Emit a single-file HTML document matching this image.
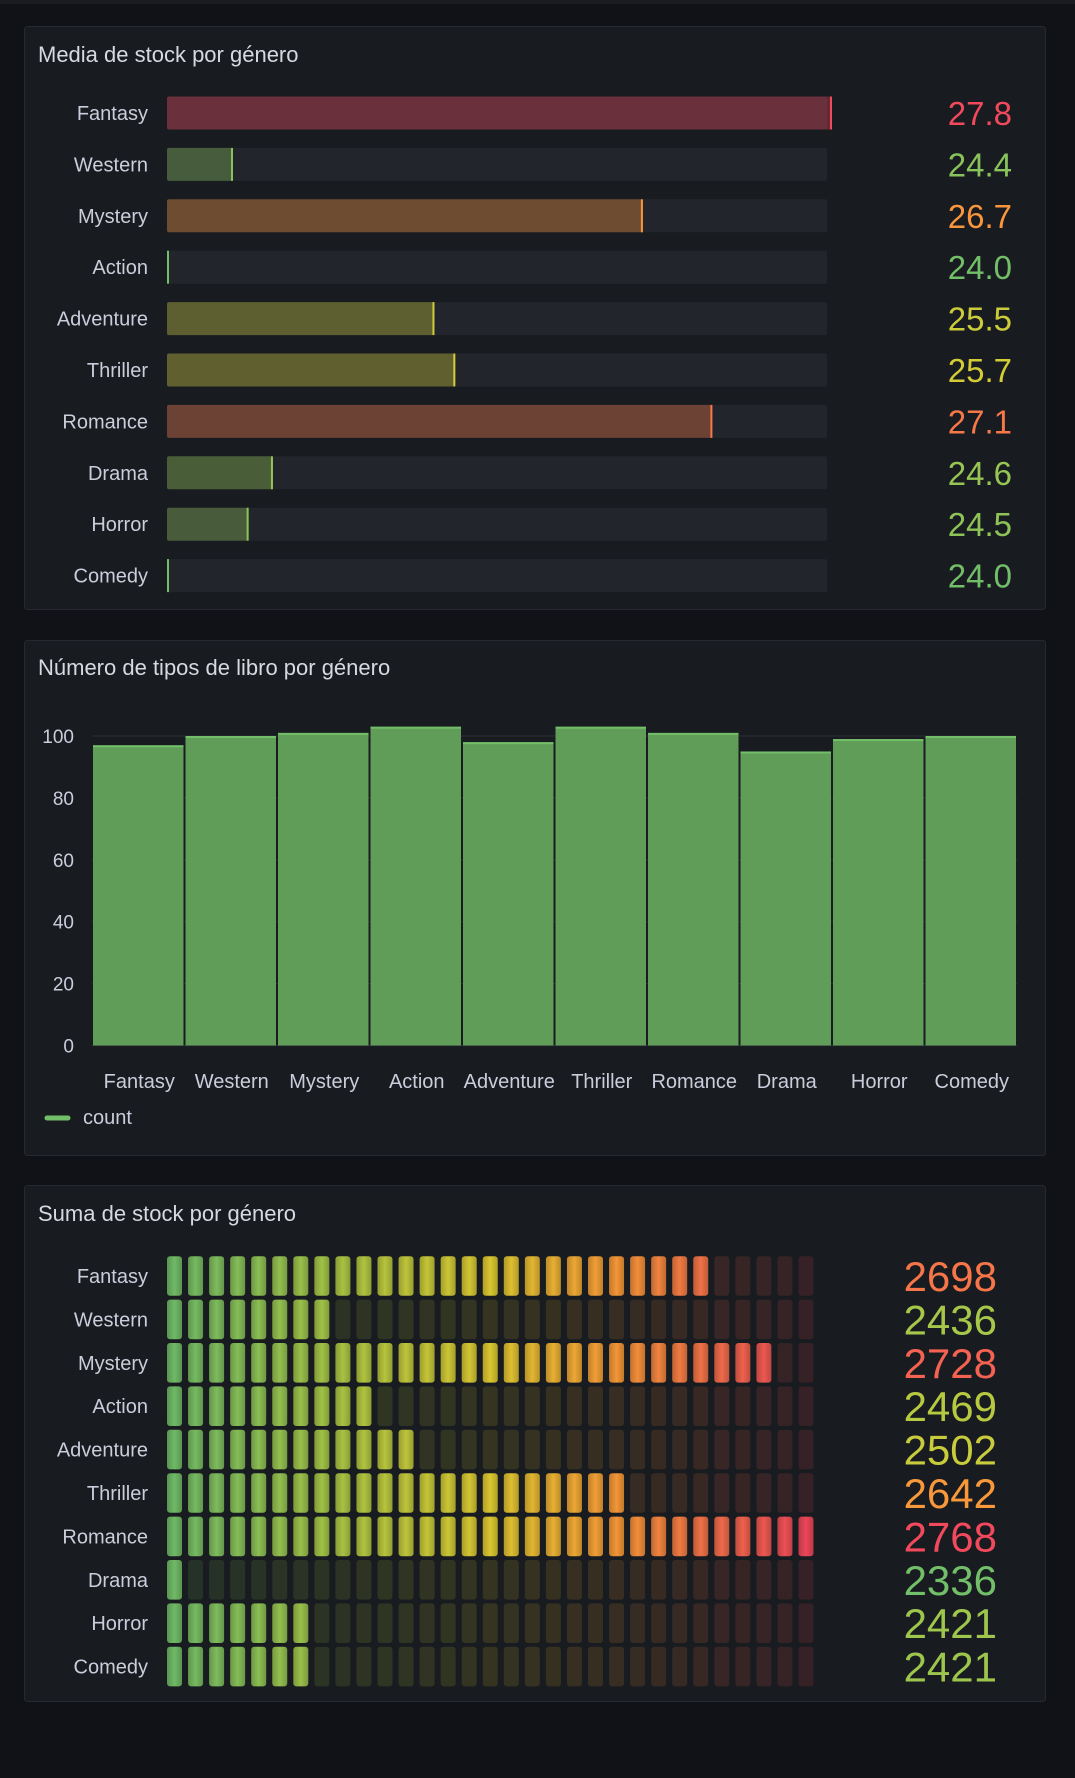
<!DOCTYPE html>
<html><head><meta charset="utf-8">
<style>
html,body{margin:0;padding:0;background:#111217;width:1075px;height:1778px;overflow:hidden;font-family:"Liberation Sans",sans-serif;}
svg{display:block}
</style></head>
<body>
<svg id="root" width="1075" height="1778" xmlns="http://www.w3.org/2000/svg">
  <rect x="0" y="0" width="1075" height="1778" fill="#111217"/>
  <rect x="0" y="0" width="1075" height="4" fill="#1a1c21"/>
  <g>
    <rect x="24.5" y="26.5" width="1021" height="583" rx="3" fill="#181b1f" stroke="#26292f"/>
    <text x="38" y="62" font-size="22" fill="#d8d9e0">Media de stock por género</text>
    <g id="p1"></g>
  </g>
  <g>
    <rect x="24.5" y="640.5" width="1021" height="515" rx="3" fill="#181b1f" stroke="#26292f"/>
    <text x="38" y="675" font-size="22" fill="#d8d9e0">Número de tipos de libro por género</text>
    <g id="p2"></g>
  </g>
  <g>
    <rect x="24.5" y="1185.5" width="1021" height="516" rx="3" fill="#181b1f" stroke="#26292f"/>
    <text x="38" y="1221" font-size="22" fill="#d8d9e0">Suma de stock por género</text>
    <g id="p3"></g>
  </g>
</svg>
<script>
const genres = ["Fantasy","Western","Mystery","Action","Adventure","Thriller","Romance","Drama","Horror","Comedy"];
const avgStock = [27.8,24.38,26.74,24.0,25.54,25.66,27.14,24.61,24.47,24.0];
const bookCounts = [97,100,101,103,98,103,101,95,99,100];
const yTicks = [0,20,40,60,80,100];
const sumStock = [2698,2436,2728,2469,2502,2642,2768,2336,2421,2421];

const NS="http://www.w3.org/2000/svg";
function mk(tag,attrs,parent){const e=document.createElementNS(NS,tag);for(const k in attrs)e.setAttribute(k,attrs[k]);parent.appendChild(e);return e;}
function lerp(a,b,t){return a+(b-a)*t;}
const stops=[[0,[115,191,105]],[0.25,[170,200,70]],[0.5,[225,205,50]],[0.68,[250,160,55]],[1,[242,73,92]]];
function col(t){t=Math.max(0,Math.min(1,t));for(let i=1;i<stops.length;i++){if(t<=stops[i][0]){const a=stops[i-1],b=stops[i];const u=(t-a[0])/(b[0]-a[0]);return [0,1,2].map(j=>Math.round(lerp(a[1][j],b[1][j],u)));}}return stops[stops.length-1][1];}
function rgb(c,a){return a===undefined?`rgb(${c[0]},${c[1]},${c[2]})`:`rgba(${c[0]},${c[1]},${c[2]},${a})`;}

// Panel 1
(function(){
  const g=document.getElementById('p1');
  const mn=Math.min(...avgStock), mx=Math.max(...avgStock);
  const x0=167, w=660, rowY=i=>113+i*51.4, bh=33;
  genres.forEach((name,i)=>{
    const cy=rowY(i), t=(avgStock[i]-mn)/(mx-mn), c=col(t);
    const lab=mk('text',{x:148,y:cy+7,'font-size':20,fill:'#ccccdc','text-anchor':'end'},g);lab.textContent=name;
    
    
    const tr=mk('rect',{x:x0,y:cy-bh/2,width:w,height:bh,rx:2,fill:'#22252b'},g);
    
    
    const fw=Math.max(2,t*w)+(t>=1?5:0);
    const b=mk('rect',{x:x0,y:cy-bh/2,width:fw,height:bh,rx:2,fill:rgb(c,0.35)},g);
    
    
    mk('rect',{x:x0+fw-2,y:cy-bh/2,width:2,height:bh,fill:rgb(c)},g);
    const v=mk('text',{x:1012,y:cy+12,'font-size':33,fill:rgb(c),'text-anchor':'end'},g);v.textContent=avgStock[i].toFixed(1);
    
    
  });
})();

// Panel 2
(function(){
  const g=document.getElementById('p2');
  const yZero=1045.5, yHundred=736, yS=v=>yZero-(yZero-yHundred)*v/100;
  const xL=92, xR=1017, band=(xR-xL)/genres.length;
  yTicks.forEach(v=>{
    mk('line',{x1:xL,x2:xR,y1:yS(v),y2:yS(v),stroke:'#2c2f35','stroke-width':1},g);
    const t=mk('text',{x:74,y:yS(v)+7,'font-size':19,fill:'#ccccdc','text-anchor':'end'},g);t.textContent=v;
    
    
  });
  genres.forEach((name,i)=>{
    const x=xL+i*band+1, y=yS(bookCounts[i]);
    const b=mk('rect',{x:x,y:y,width:band-2,height:yZero-y,fill:'#5f9d58'},g);
    
    
    mk('rect',{x:x,y:y,width:band-2,height:2,fill:'#73bf69'},g);
    const t=mk('text',{x:x+band/2,y:1088,'font-size':20,fill:'#ccccdc','text-anchor':'middle'},g);t.textContent=name;
    
    
  });
  const lg=mk('g',{},g);
  
  
  mk('line',{x1:47,x2:68,y1:1118,y2:1118,stroke:'#73bf69','stroke-width':5,'stroke-linecap':'round'},lg);
  const lt=mk('text',{x:83,y:1124,'font-size':20,fill:'#ccccdc'},lg);lt.textContent='count';
})();

// Panel 3
(function(){
  const g=document.getElementById('p3');
  const defs=mk('defs',{},g);
  const N=31, mn=Math.min(...sumStock), mx=Math.max(...sumStock);
  const x0=167, pitch=21.05, cw=15, ch=39.6, rowY=i=>1276+i*43.4;
  for(let k=0;k<N;k++){
    const c=col(k/(N-1));
    const lgr=mk('linearGradient',{id:'cg'+k,x1:0,x2:1,y1:0,y2:0},defs);
    mk('stop',{offset:'0','stop-color':rgb(c.map(v=>Math.round(v*0.78)))},lgr);
    mk('stop',{offset:'0.5','stop-color':rgb(c.map(v=>Math.round(v*0.97)))},lgr);
    mk('stop',{offset:'1','stop-color':rgb(c.map(v=>Math.round(v*0.78)))},lgr);
  }
  genres.forEach((name,i)=>{
    const cy=rowY(i), t=(sumStock[i]-mn)/(mx-mn), lit=Math.max(1,Math.ceil(t*N-1e-9));
    const lab=mk('text',{x:148,y:cy+7,'font-size':20,fill:'#ccccdc','text-anchor':'end'},g);lab.textContent=name;
    
    
    const row=mk('g',{},g);
    
    
    for(let k=0;k<N;k++){
      const c=col(k/(N-1));
      mk('rect',{x:x0+k*pitch,y:cy-ch/2,width:cw,height:ch,rx:3,fill:k<lit?`url(#cg${k})`:rgb(c,0.14)},row);
    }
    const v=mk('text',{x:997,y:cy+15,'font-size':42,fill:rgb(col(t)),'text-anchor':'end'},g);v.textContent=sumStock[i];
    
    
  });
})();
</script>
</body></html>
